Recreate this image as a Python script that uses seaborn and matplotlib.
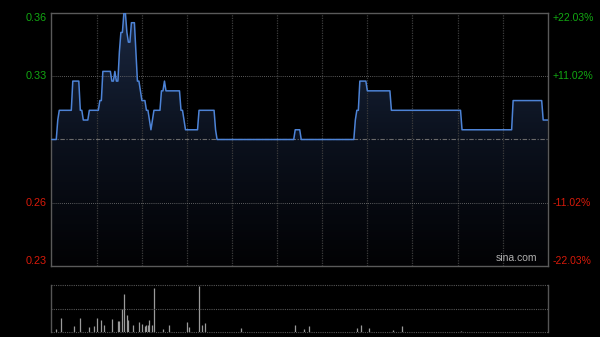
import numpy as np
import pandas as pd
import matplotlib
matplotlib.use("Agg")
import matplotlib.pyplot as plt
import seaborn as sns
from matplotlib.colors import LinearSegmentedColormap
from matplotlib.transforms import blended_transform_factory

# ---------------- data ----------------
prev_close = 0.295
pct_ticks = [0.2203, 0.1102, -0.1102, -0.2203]
pct_labels = ["+22.03%", "+11.02%", "-11.02%", "-22.03%"]
price_labels = ["0.36", "0.33", "0.26", "0.23"]

# intraday minute prices as runs: (price, number of minutes)
seg_prices = [0.295, 0.305, 0.310, 0.325, 0.310, 0.305, 0.310, 0.315, 0.330, 0.325,
              0.330, 0.325, 0.340, 0.350, 0.360, 0.350, 0.345, 0.355, 0.340, 0.325,
              0.320, 0.315, 0.310, 0.305, 0.300, 0.305, 0.310, 0.320, 0.325, 0.320,
              0.310, 0.305, 0.300, 0.310, 0.300, 0.295, 0.300, 0.295, 0.305, 0.310,
              0.325, 0.320, 0.310, 0.300, 0.315, 0.305]
seg_minutes = [4, 1, 9, 5, 2, 4, 7, 2, 6, 2,
               1, 2, 1, 2, 2, 1, 2, 3, 1, 2,
               1, 3, 2, 1, 1, 1, 5, 2, 1, 10,
               2, 1, 9, 11, 1, 52, 4, 36, 1, 2,
               5, 16, 47, 34, 20, 4]

vol_minutes = [3, 6, 15, 19, 25, 28, 30, 33, 35, 40, 44, 45, 47, 48, 50, 51, 54, 58,
               60, 62, 63, 64, 65, 67, 68, 74, 78, 90, 91, 98, 100, 102, 126, 162,
               168, 171, 203, 206, 211, 227, 233, 272]
vol_values = [6, 29, 13, 30, 11, 13, 30, 26, 15, 28, 23, 24, 50, 81, 36, 26, 15, 22,
              17, 13, 15, 15, 26, 15, 94, 7, 15, 22, 11, 98, 15, 20, 8, 15,
              6, 13, 8, 15, 8, 4, 12, 3]

# ---------------- style ----------------
sns.set_theme(style="dark")
plt.rcParams["font.family"] = ["Liberation Sans", "DejaVu Sans"]

fig = plt.figure(figsize=(6, 3.37), dpi=100, facecolor="black")
ax = fig.add_axes([51 / 600, 1 - 266 / 337, 497 / 600, 253 / 337])
axv = fig.add_axes([51 / 600, 1 - 332 / 337, 497 / 600, 47 / 337])

for a in (ax, axv):
    a.set_facecolor("black")
    a.grid(False)
    a.set_xticks([])
    a.set_yticks([])
    a.set_xlabel("")
    a.set_ylabel("")

ymax = prev_close * (1 + pct_ticks[0])
ymin = prev_close * (1 + pct_ticks[-1])
n_min = len(np.repeat(seg_prices, seg_minutes))
xmin, xmax = -0.5, n_min - 0.8

df = pd.DataFrame({"minute": np.arange(n_min),
                   "price": np.repeat(seg_prices, seg_minutes)})

# gradient fill under the line
poly = ax.fill_between(df["minute"], df["price"], ymin, color="none", lw=0)
cmap = LinearSegmentedColormap.from_list("g", ["#020204", "#0b111d", "#1a2740"])
grad = np.linspace(0, 1, 256).reshape(-1, 1)
im = ax.imshow(grad, extent=[xmin, xmax, ymin, ymax], origin="lower",
               aspect="auto", cmap=cmap, zorder=1)
im.set_clip_path(poly.get_paths()[0], transform=ax.transData)

# grid lines
for k in range(1, 11):
    ax.axvline(30 * k, color="#3c3c3c", lw=0.9, ls=(0, (1, 1)), zorder=2)
for p in pct_ticks[1:3]:
    ax.axhline(prev_close * (1 + p), color="#7a7a7a", lw=0.6, ls=(0, (1, 1.5)), zorder=2)
ax.axhline(prev_close, color="#6a6a6a", lw=0.8, ls=(0, (4, 1.5, 1, 1.5)), zorder=2)

sns.lineplot(data=df, x="minute", y="price", ax=ax, color="#4d83d6", lw=1.1,
             zorder=3)

ax.set_xlim(xmin, xmax)
ax.set_ylim(ymin, ymax)
ax.set_xlabel("")
ax.set_ylabel("")
ax.set_xticks([])
ax.set_yticks([])
for s in ax.spines.values():
    s.set_visible(True)
    s.set_color("#5a5a5a")
    s.set_linewidth(1.0)

# axis labels
tl = blended_transform_factory(ax.transAxes, ax.transData)
vas = ["top", "center", "center", "bottom"]
for p, lab, plab, va in zip(pct_ticks, price_labels, pct_labels, vas):
    y = prev_close * (1 + p)
    col = "#12a812" if p > 0 else "#d81a0a"
    ax.text(-0.008, y, lab, transform=tl, ha="right", va=va, color=col, fontsize=7.8)
    ax.text(1.01, y, plab, transform=tl, ha="left", va=va, color=col, fontsize=7.5)

ax.text(0.978, 0.012, "sina.com", transform=ax.transAxes, ha="right", va="bottom",
        color="#b0b0b0", fontsize=7.5, zorder=5)

# volume
axv.vlines(vol_minutes, 0, vol_values, color="#9a9a9a", lw=0.9)
axv.set_xlim(xmin, xmax)
axv.set_ylim(0, 100)
for yv in (0, 50, 100):
    axv.axhline(yv, color="#555555", lw=0.8, ls=(0, (1, 1)), clip_on=False)
for side in ("top", "bottom"):
    axv.spines[side].set_visible(False)
for side in ("left", "right"):
    axv.spines[side].set_visible(True)
    axv.spines[side].set_color("#555555")
    axv.spines[side].set_linewidth(1.0)

fig.savefig("out.png", dpi=100, facecolor="black")
